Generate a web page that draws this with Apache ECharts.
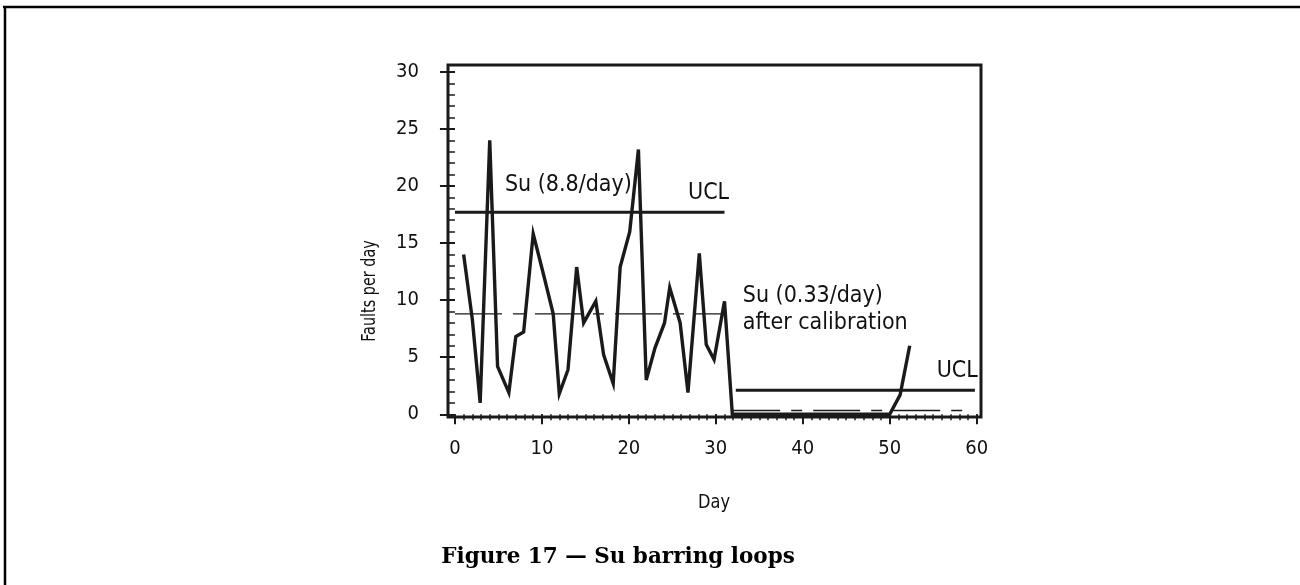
<!DOCTYPE html>
<html><head><meta charset="utf-8">
<script src="https://cdn.jsdelivr.net/npm/echarts@6/dist/echarts.min.js"></script>
<style>html,body{margin:0;padding:0;background:#fff}#c{width:1300px;height:585px}</style>
</head><body><div id="c"></div>
<script>
// ---- data ----
const days   = [1,2,2.9,4,4.9,6.2,7,7.9,9,10.2,11.3,12,13,14,14.8,16.2,17.1,18.2,19,20.1,21.1,22,23,24.1,24.7,25.9,26.8,28.1,28.9,29.8,31,31.9,33,34,35,36,37,38,39,40,41,42,43,44,45,46,47,48,49,50,51.2,52.3];
const faults = [14,8.3,1,24,4.2,1.9,6.8,7.2,15.8,12.2,8.8,1.8,3.9,12.9,8,9.9,5.2,2.7,12.9,16,23.2,3,5.8,8,11.1,8,1.9,14.1,6.1,4.8,9.9,0,0,0,0,0,0,0,0,0,0,0,0,0,0,0,0,0,0,0,1.7,6];
const ucl1Days = [0,31],     ucl1Vals = [17.7,17.7];
const mean1Days = [0,30.8],  mean1Vals = [8.8,8.8];
const ucl2Days = [32.3,59.8], ucl2Vals = [2.1,2.1];
const mean2Days = [32,58.6], mean2Vals = [0.33,0.33];
const xTicks = [0,10,20,30,40,50,60];
const yTicks = [0,5,10,15,20,25,30];
const xMinor = Array.from({length:61},(_, i)=>i);
const yMinor = Array.from({length:31},(_, i)=>i);
const noteTexts = ['Su (8.8/day)','UCL','Su (0.33/day)','after calibration','UCL'];
const noteDays  = [5.75,26.8,33.1,33.1,55.4];
const noteVals  = [20.1,19.4,10.4,8.0,3.75];
const titleText = 'Figure 17 \u2014 Su barring loops';
const xName = 'Day', yName = 'Faults per day';

const FONT = '"Liberation Sans Narrow","DejaVu Sans Condensed","Roboto Condensed","Open Sans",sans-serif';
const INK = '#1a1a1a';
const TXT = '#111';
const zip = (a,b)=>a.map((v,i)=>[v,b[i]]);
const X0 = -0.8, X1 = 60.5, Y0 = -0.24, Y1 = 30.6;
const gridBox = {left:448, top:65, width:533, height:352};

const chart = echarts.init(document.getElementById('c'), null, {renderer:'canvas'});
chart.setOption({
  animation:false,
  backgroundColor:'#fff',
  grid:[
    Object.assign({show:true, borderColor:INK, borderWidth:3, backgroundColor:'transparent'}, gridBox),
    Object.assign({show:false}, gridBox)
  ],
  xAxis:[
    {type:'value', gridIndex:0, min:X0, max:X1, position:'bottom',
     axisLine:{show:false}, splitLine:{show:false},
     axisTick:{show:true, customValues:xTicks, length:10, lineStyle:{color:INK, width:2}},
     axisLabel:{customValues:xTicks, margin:22, fontSize:20, fontFamily:FONT, color:TXT}},
    {type:'value', gridIndex:1, min:X0, max:X1, position:'bottom',
     axisLine:{show:false}, splitLine:{show:false},
     axisTick:{show:true, customValues:xMinor, length:6, lineStyle:{color:INK, width:1.5}},
     axisLabel:{show:false}}
  ],
  yAxis:[
    {type:'value', gridIndex:0, min:Y0, max:Y1, position:'left',
     axisLine:{show:false}, splitLine:{show:false},
     axisTick:{show:true, customValues:yTicks, length:15, lineStyle:{color:INK, width:2}},
     axisLabel:{customValues:yTicks, margin:29, fontSize:20, fontFamily:FONT, color:TXT}},
    {type:'value', gridIndex:1, min:Y0, max:Y1, position:'left',
     axisLine:{show:false}, splitLine:{show:false},
     axisTick:{show:true, customValues:yMinor, length:8, lineStyle:{color:INK, width:1.5}},
     axisLabel:{show:false}}
  ],
  series:[
    {type:'line', data:zip(mean1Days,mean1Vals), symbol:'none', z:2,
     lineStyle:{color:INK, width:1.3, type:[47,11,11,11]}},
    {type:'line', data:zip(mean2Days,mean2Vals), symbol:'none', z:2,
     lineStyle:{color:INK, width:1.3, type:[47,11,11,11]}},
    {type:'line', data:zip(ucl1Days,ucl1Vals), symbol:'none', z:3,
     lineStyle:{color:INK, width:3}},
    {type:'line', data:zip(ucl2Days,ucl2Vals), symbol:'none', z:3,
     lineStyle:{color:INK, width:3}},
    {type:'line', data:zip(days,faults), symbol:'none', z:4,
     lineStyle:{color:INK, width:3.4, join:'miter', miterLimit:6}},
    {type:'scatter', symbolSize:0, z:5, silent:true, itemStyle:{opacity:1, color:TXT},
     data:noteTexts.map((t,i)=>({value:[noteDays[i],noteVals[i]], name:t})),
     label:{show:true, position:[0,0], align:'left', verticalAlign:'middle', opacity:1,
            formatter:p=>p.name, fontSize:23, fontFamily:FONT, color:TXT}}
  ],
  graphic:[
    {type:'line', shape:{x1:3, y1:7, x2:1300, y2:7}, style:{stroke:'#000', lineWidth:2.5}},
    {type:'line', shape:{x1:5, y1:6, x2:5, y2:585}, style:{stroke:'#000', lineWidth:2.5}},
    {type:'text', x:370, y:291, rotation:Math.PI/2, scaleX:0.8,
     style:{text:yName, fontSize:20, fontFamily:FONT, fill:TXT, align:'center', verticalAlign:'middle'}},
    {type:'text', x:714, y:503, scaleX:0.9,
     style:{text:xName, fontSize:20, fontFamily:FONT, fill:TXT, align:'center', verticalAlign:'middle'}},
    {type:'text', x:618, y:557,
     style:{text:titleText, fontSize:21.5, fontWeight:'bold', fontFamily:'"DejaVu Serif","Liberation Serif",serif', fill:'#000', align:'center', verticalAlign:'middle'}}
  ]
});
</script></body></html>
